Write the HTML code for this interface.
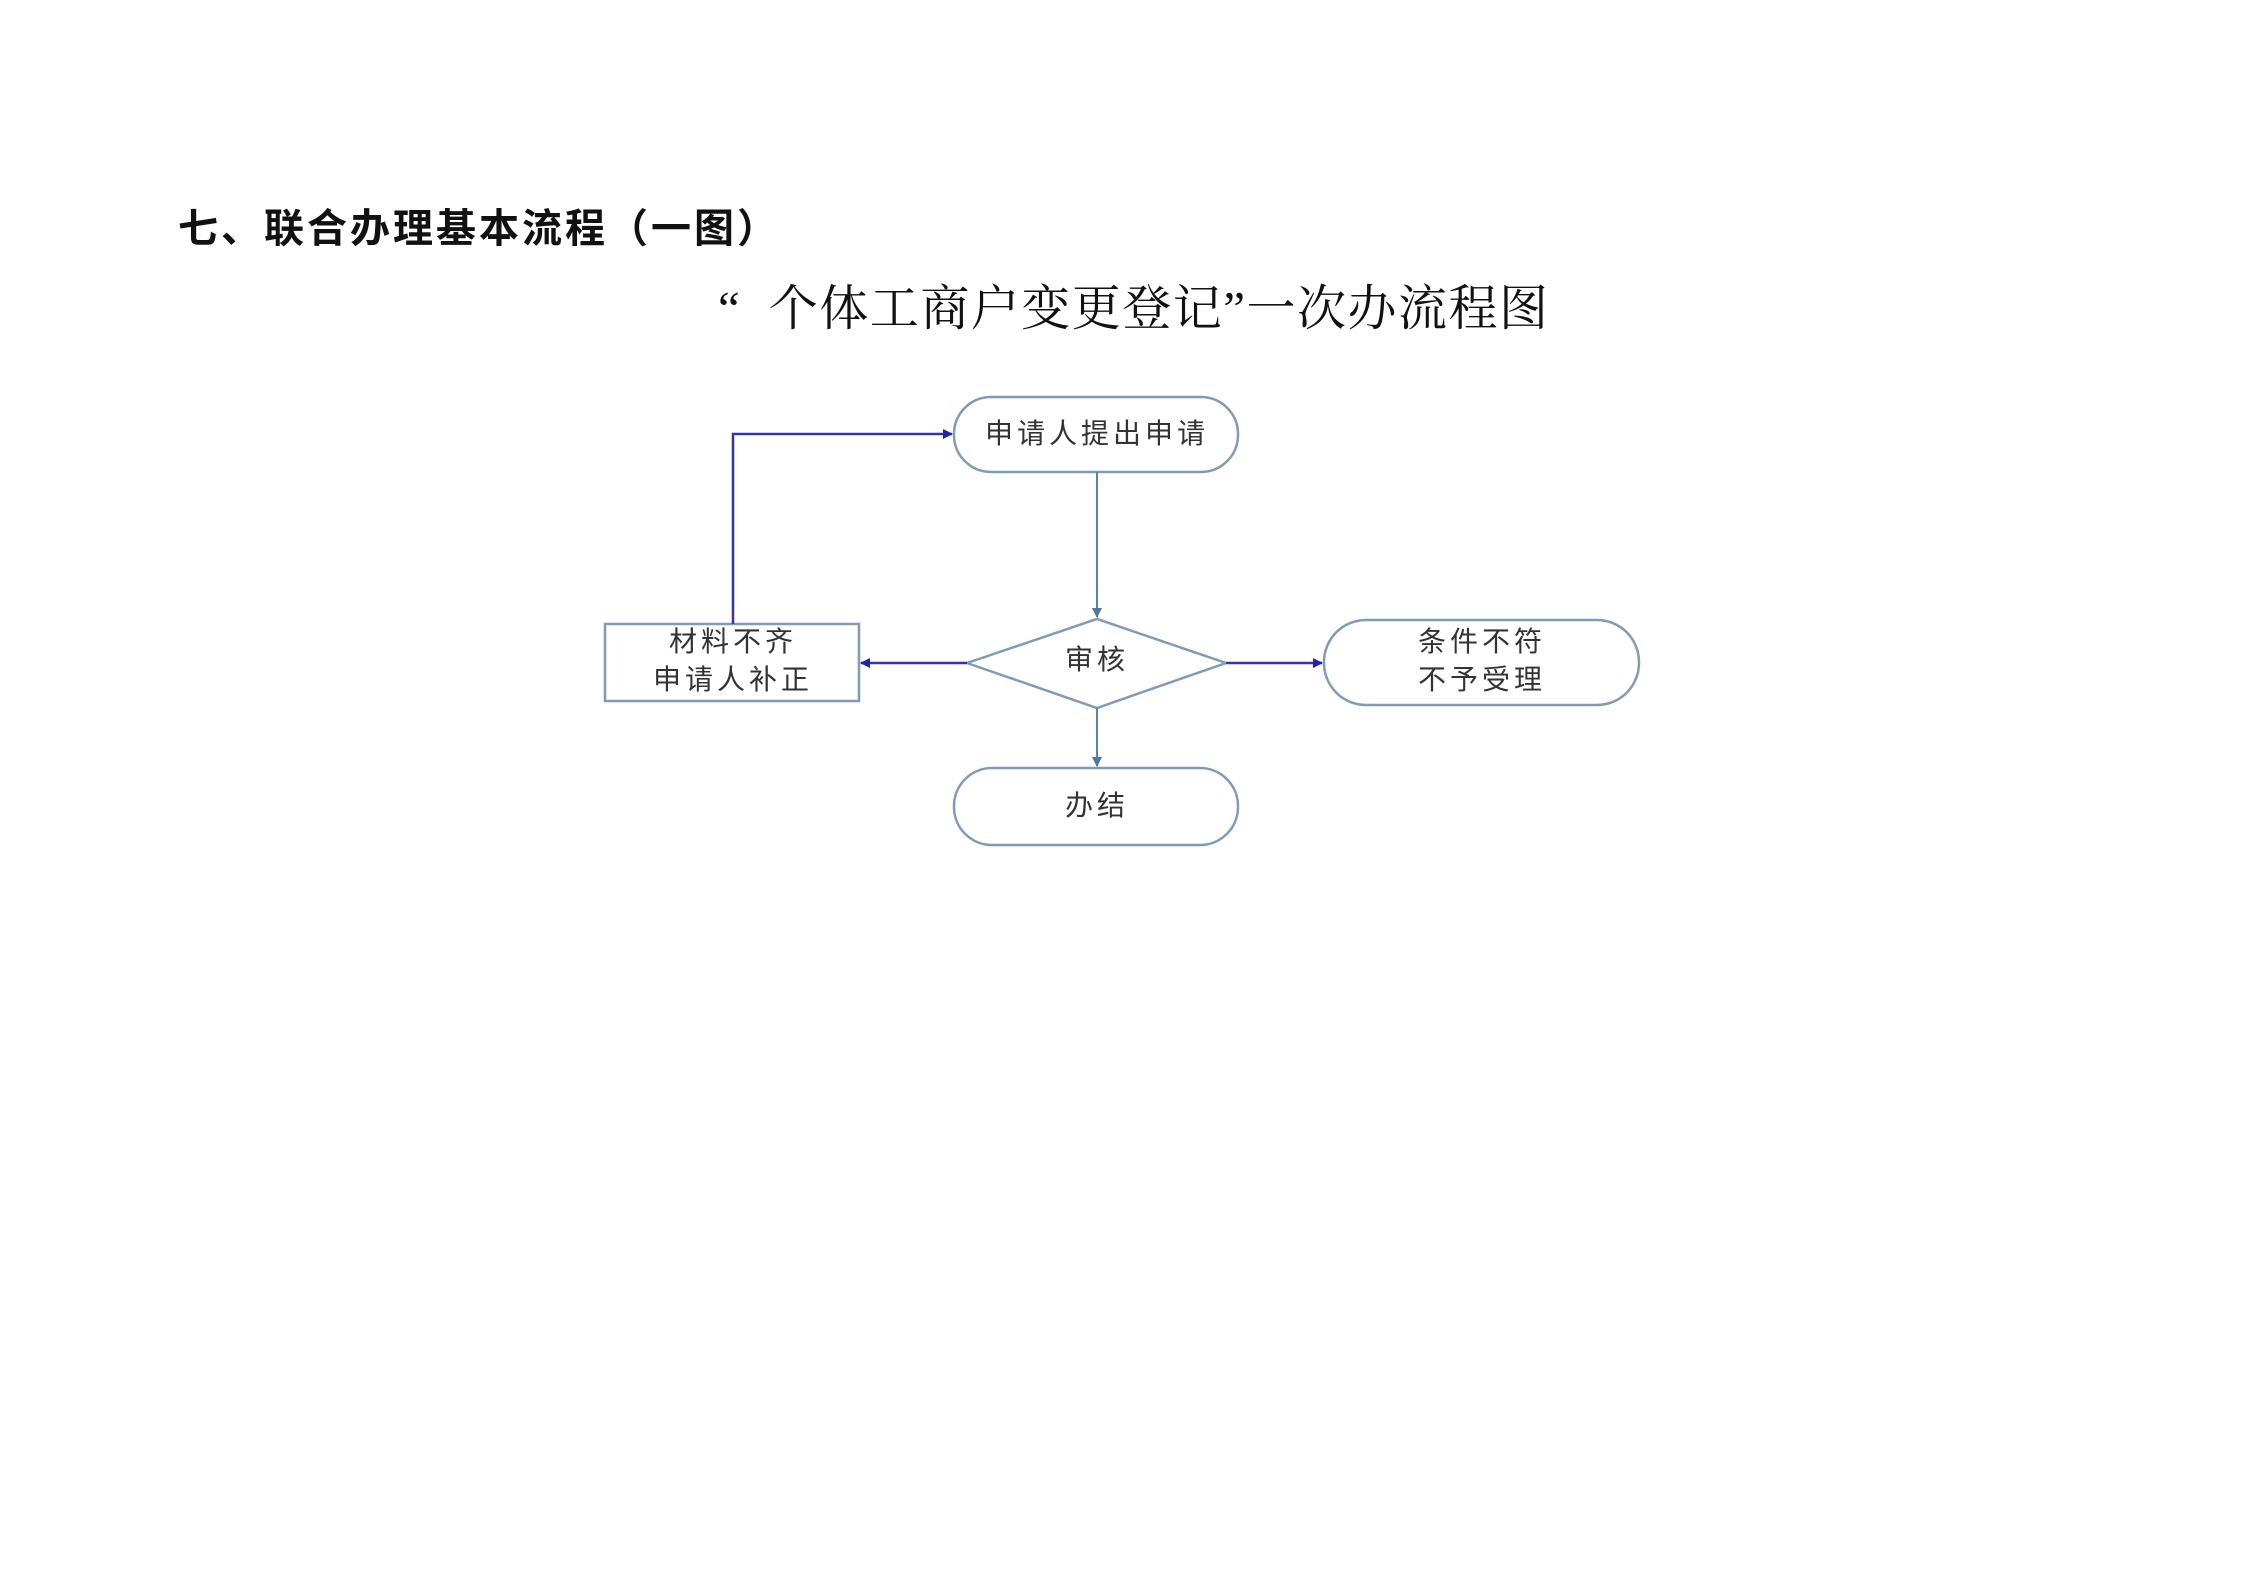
<!DOCTYPE html>
<html><head><meta charset="utf-8"><style>
html,body{margin:0;padding:0;background:#fff;}
body{width:2245px;height:1587px;position:relative;overflow:hidden;font-family:"Liberation Sans","Noto Sans CJK SC",sans-serif;}
.h{position:absolute;left:178px;top:196px;font-size:40px;font-weight:bold;color:#111;white-space:nowrap;letter-spacing:3px;}
.t{position:absolute;left:718px;top:270px;font-family:"Liberation Serif","Noto Serif CJK SC",serif;font-size:49px;color:#111;white-space:nowrap;letter-spacing:1.5px;}
</style></head><body>
<div class="h">七、联合办理基本流程（一图）</div>
<div class="t">“&nbsp; 个体工商户变更登记”一次办流程图</div>
<svg width="2245" height="1587" style="position:absolute;left:-4px;top:-3px" xmlns="http://www.w3.org/2000/svg">
<defs>
<marker id="a1" markerWidth="10" markerHeight="10" refX="9" refY="5" orient="auto" markerUnits="userSpaceOnUse"><path d="M0,0 L10,5 L0,10 z" fill="#4a78a8"/></marker>
<marker id="a2" markerWidth="10" markerHeight="10" refX="9" refY="5" orient="auto" markerUnits="userSpaceOnUse"><path d="M0,0 L10,5 L0,10 z" fill="#2222aa"/></marker>
</defs>
<g fill="#fff" stroke="#7f9bb8" stroke-width="2.5">
<rect x="958" y="400" width="284" height="75" rx="37"/>
<polygon points="971,666 1101,622 1230,666 1101,711"/>
<rect x="609" y="627" width="254" height="77"/>
<rect x="1328" y="623" width="315" height="85" rx="42"/>
<rect x="958" y="771" width="284" height="77" rx="38"/>
</g>
<g stroke="#5a84ae" stroke-width="2" fill="none">
<line x1="1101" y1="475" x2="1101" y2="620" marker-end="url(#a1)"/>
<line x1="1101" y1="711" x2="1101" y2="769" marker-end="url(#a1)"/>
</g>
<g stroke="#3333aa" stroke-width="2.5" fill="none">
<polyline points="737,627 737,437 956,437" marker-end="url(#a2)"/>
<line x1="971" y1="666" x2="865" y2="666" marker-end="url(#a2)"/>
<line x1="1230" y1="666" x2="1326" y2="666" marker-end="url(#a2)"/>
</g>
<g font-family="Liberation Sans, Noto Sans CJK SC, sans-serif" font-size="28" fill="#333" text-anchor="middle" letter-spacing="4">
<text x="1101" y="446">申请人提出申请</text>
<text x="1101" y="672">审核</text>
<text x="737" y="654">材料不齐</text>
<text x="737" y="692">申请人补正</text>
<text x="1486" y="654">条件不符</text>
<text x="1486" y="692">不予受理</text>
<text x="1101" y="818">办结</text>
</g>
</svg>
</body></html>
